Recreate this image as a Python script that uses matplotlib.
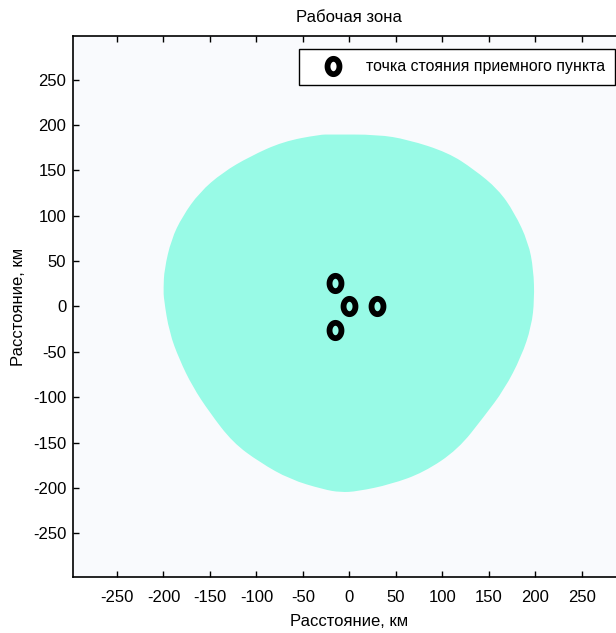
#################### Libraries
import numpy as np
import matplotlib.pyplot as plt
from matplotlib.path import Path
from matplotlib.patches import PathPatch

plt.rcParams['font.family'] = ['Liberation Sans', 'DejaVu Sans']
plt.rcParams['axes.unicode_minus'] = False

#################### Data: boundary of the working zone, km
zone_x = [-20.6, 30.3, 62.8, 106.1, 134.2, 160.2, 177.5, 192.6, 198.1, 199.1,
          195.9, 185.1, 166.7, 145.0, 116.9, 80.1, 44.4, 8.7, -9.7, -28.1,
          -63.9, -96.3, -125.5, -150.4, -168.8, -182.9, -193.7, -199.6, -200.0,
          -199.1, -191.6, -179.7, -161.3, -136.4, -107.1, -71.4, -31.4]
zone_y = [189.4, 189.4, 183.9, 169.6, 150.9, 128.9, 103.5, 70.5, 40.7, 7.7,
          -22.0, -55.1, -91.4, -121.1, -157.5, -182.8, -196.0, -203.7, -204.8, -201.5,
          -190.5, -171.8, -149.8, -116.7, -88.1, -58.4, -28.6, 7.7, 20.0,
          40.7, 73.8, 99.1, 125.6, 147.6, 165.2, 181.7, 189.4]

#################### Data: receiving stations, km
st_x = [0, 30, -15, -15]
st_y = [0, 0, 26, -26]

ticks = [-250, -200, -150, -100, -50, 0, 50, 100, 150, 200, 250]

#################### Smooth closed outline (read points used as quadratic control points)
P = np.column_stack([zone_x, zone_y])
M = (P + np.roll(P, -1, axis=0)) / 2
verts = [M[-1]]
codes = [Path.MOVETO]
for i in range(len(P)):
    verts += [P[i], M[i]]
    codes += [Path.CURVE3, Path.CURVE3]
zone = Path(verts, codes)

#################### Ring marker (a bit taller than wide)
t = np.linspace(0, 2 * np.pi, 60)
ring = Path(np.column_stack([0.78 * np.cos(t), np.sin(t)]), closed=True)

#################### Plot
fig = plt.figure(figsize=(6.16, 6.33), dpi=100)
ax = fig.add_axes([0.119, 0.0885, 0.8963, 0.8547])
ax.set_facecolor('#F9FAFD')

ax.add_patch(PathPatch(zone, facecolor='#98FAE6', edgecolor='none'))
ax.plot(st_x, st_y, linestyle='none', marker=ring, markersize=11,
        markerfacecolor='none', markeredgecolor='black', markeredgewidth=4.2,
        label='точка стояния приемного пункта')

ax.set_xlim(-297, 297)
ax.set_ylim(-298, 298)
ax.set_xticks(ticks)
ax.set_yticks(ticks)
ax.tick_params(direction='in', length=4, width=1, labelsize=12, top=True,
               right=False)
ax.tick_params(axis='x', pad=9.5)
ax.tick_params(axis='y', pad=5)
for s in ax.spines.values():
    s.set_linewidth(1.2)

ax.set_title('Рабочая зона', fontsize=12, pad=10)
ax.set_xlabel('Расстояние, км', fontsize=12, labelpad=6)
ax.set_ylabel('Расстояние, км', fontsize=12, labelpad=5)

leg = ax.legend(loc='upper left', bbox_to_anchor=(299 / 616, 1 - 49 / 633),
                bbox_transform=fig.transFigure, borderaxespad=0,
                fancybox=False, framealpha=1, edgecolor='black', fontsize=11.4,
                handlelength=3.0, handletextpad=0.55, borderpad=0.65)
leg.get_frame().set_linewidth(1.0)

fig.savefig('out.png', dpi=100)
